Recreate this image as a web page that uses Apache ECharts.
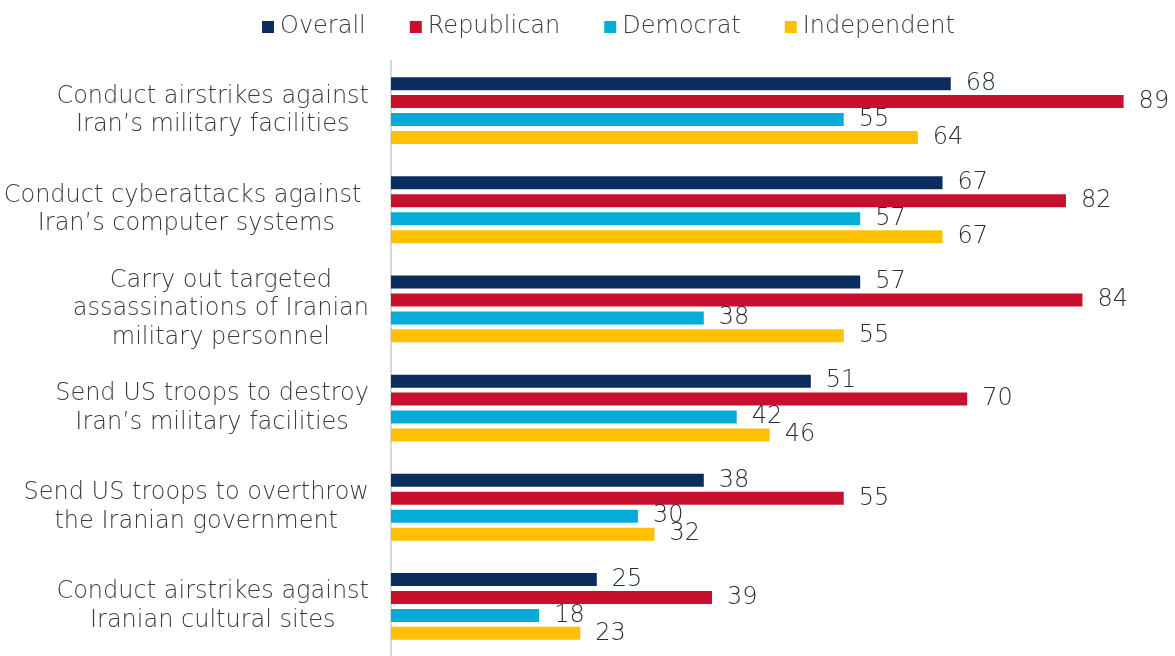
<!DOCTYPE html>
<html><head><meta charset="utf-8">
<script src="https://cdn.jsdelivr.net/npm/echarts@6/dist/echarts.min.js"></script>
<style>html,body{margin:0;padding:0;background:#fff}#c{width:1175px;height:656px}</style>
</head><body><div id="c"></div>
<script>
const categories = [
  "Conduct airstrikes against\nIran’s military facilities",
  "Conduct cyberattacks against \nIran’s computer systems",
  "Carry out targeted\nassassinations of Iranian\nmilitary personnel",
  "Send US troops to destroy\nIran’s military facilities",
  "Send US troops to overthrow\nthe Iranian government",
  "Conduct airstrikes against\nIranian cultural sites"
];
const seriesNames = ["Overall", "Republican", "Democrat", "Independent"];
const overall = [68, 67, 57, 51, 38, 25];
const republican = [89, 82, 84, 70, 55, 39];
const democrat = [55, 57, 38, 42, 30, 18];
const independent = [64, 67, 55, 46, 32, 23];
const colors = ["#0a2d5e", "#c8102e", "#06acd8", "#ffc000"];

const FONT = "DejaVu Sans";
const W = 200;
const values = [overall, republican, democrat, independent];
const chart = echarts.init(document.getElementById('c'));
chart.setOption({
  animation: false,
  textStyle: {fontFamily: FONT},
  legend: {
    top: 10, left: 257,
    itemWidth: 12, itemHeight: 12, itemGap: 44,
    icon: 'rect',
    textStyle: {fontSize: 24, color: '#3a3a3a', fontFamily: FONT, fontWeight: W, padding: [0, 0, 0, 1]},
    data: seriesNames
  },
  grid: {left: 391, right: 2, top: 61, bottom: 0, containLabel: false},
  xAxis: {type: 'value', min: 0, max: 95, show: false},
  yAxis: {
    type: 'category', inverse: true, data: categories,
    axisLine: {show: true, lineStyle: {color: '#d9d9d9', width: 2}},
    axisTick: {show: false},
    axisLabel: {
      margin: 22, fontSize: 24, color: '#3a3a3a', fontFamily: FONT, fontWeight: W,
      lineHeight: 28.5,
      formatter: function (v) { return v.split('\n').map(s => '{c|' + s + '}').join('\n'); },
      rich: {c: {align: 'center', fontSize: 24, color: '#3a3a3a', fontFamily: FONT, fontWeight: W, lineHeight: 28.5}}
    }
  },
  series: seriesNames.map((n, i) => ({
    name: n, type: 'bar', data: values[i],
    barWidth: 13, barGap: '38%',
    itemStyle: {color: colors[i]},
    label: {show: true, position: 'right', distance: 15, fontSize: 24, color: '#2e2e2e', fontFamily: FONT, fontWeight: W}
  }))
});
</script></body></html>
